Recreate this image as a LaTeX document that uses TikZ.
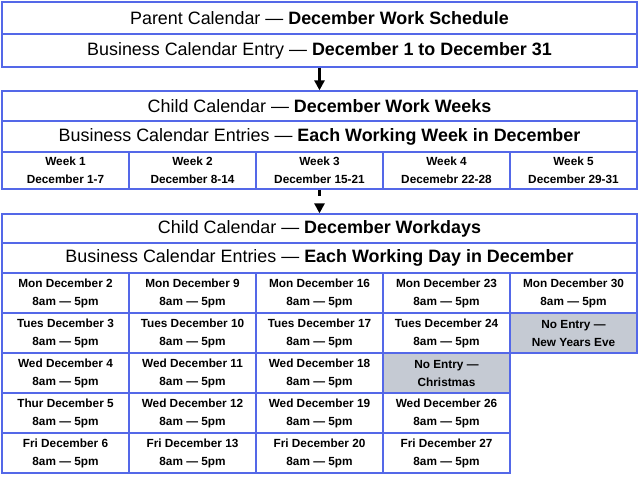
\documentclass[tikz,border=0pt]{standalone}
\usepackage{fontspec}
\setmainfont{Liberation Sans}
\usetikzlibrary{arrows.meta}
\definecolor{bord}{HTML}{5468E8}
\definecolor{grayfill}{HTML}{C5CAD3}
\tikzset{
  box/.style={draw=bord, line width=1.3pt, fill=white, inner sep=0pt, anchor=center, align=center},
  head/.style={box, minimum width=635pt, font=\fontsize{17.9}{20}\selectfont},
  cell/.style={box, minimum width=127pt, font=\fontsize{11.8}{18}\selectfont\bfseries},
  wcell/.style={cell, minimum height=37pt},
  dcell/.style={cell, minimum height=40pt},
  nocell/.style={dcell, fill=grayfill},
  flow/.style={line width=2.6pt, -{Triangle[width=10pt,length=10pt]}}
}
\begin{document}
\begin{tikzpicture}[x=1pt,y=-1pt]
\useasboundingbox (0,0) rectangle (640,478);
% Parent
\node[head, minimum height=32pt] (p1) at (319.5,18) {Parent Calendar — \textbf{December Work Schedule}};
\node[head, minimum height=33pt] (p2) at (319.5,50.5) {Business Calendar Entry — \textbf{December 1 to December 31}};
% Weeks
\node[head, minimum height=30pt] (c1) at (319.5,106) {Child Calendar — \textbf{December Work Weeks}};
\node[head, minimum height=31pt] (c2) at (319.5,136.5) {Business Calendar Entries — \textbf{Each Working Week in December}};
\node[wcell] (w1) at (65.5,170.5) {Week 1\\December 1-7};
\node[wcell] (w2) at (192.5,170.5) {Week 2\\December 8-14};
\node[wcell] (w3) at (319.5,170.5) {Week 3\\December 15-21};
\node[wcell] (w4) at (446.5,170.5) {Week 4\\Decemebr 22-28};
\node[wcell] (w5) at (573.5,170.5) {Week 5\\December 29-31};
% Days
\node[head, minimum height=29pt] (d1) at (319.5,228.5) {Child Calendar — \textbf{December Workdays}};
\node[head, minimum height=30pt] (d2) at (319.5,258) {Business Calendar Entries — \textbf{Each Working Day in December}};
% column 1
\node[dcell] (m1) at (65.5,293) {Mon December 2\\8am — 5pm};
\node[dcell] (t1) at (65.5,333) {Tues December 3\\8am — 5pm};
\node[dcell] (e1) at (65.5,373) {Wed December 4\\8am — 5pm};
\node[dcell] (h1) at (65.5,413) {Thur December 5\\8am — 5pm};
\node[dcell] (f1) at (65.5,453) {Fri December 6\\8am — 5pm};
% column 2
\node[dcell] (m2) at (192.5,293) {Mon December 9\\8am — 5pm};
\node[dcell] (t2) at (192.5,333) {Tues December 10\\8am — 5pm};
\node[dcell] (e2) at (192.5,373) {Wed December 11\\8am — 5pm};
\node[dcell] (h2) at (192.5,413) {Wed December 12\\8am — 5pm};
\node[dcell] (f2) at (192.5,453) {Fri December 13\\8am — 5pm};
% column 3
\node[dcell] (m3) at (319.5,293) {Mon December 16\\8am — 5pm};
\node[dcell] (t3) at (319.5,333) {Tues December 17\\8am — 5pm};
\node[dcell] (e3) at (319.5,373) {Wed December 18\\8am — 5pm};
\node[dcell] (h3) at (319.5,413) {Wed December 19\\8am — 5pm};
\node[dcell] (f3) at (319.5,453) {Fri December 20\\8am — 5pm};
% column 4
\node[dcell] (m4) at (446.5,293) {Mon December 23\\8am — 5pm};
\node[dcell] (t4) at (446.5,333) {Tues December 24\\8am — 5pm};
\node[nocell] (e4) at (446.5,373) {No Entry —\\Christmas};
\node[dcell] (h4) at (446.5,413) {Wed December 26\\8am — 5pm};
\node[dcell] (f4) at (446.5,453) {Fri December 27\\8am — 5pm};
% column 5
\node[dcell] (m5) at (573.5,293) {Mon December 30\\8am — 5pm};
\node[nocell] (t5) at (573.5,333) {No Entry —\\New Years Eve};
% arrows
\draw[flow] (p2.south) -- (c1.north);
\draw[flow, dash pattern=on 6pt off 30pt] (w3.south) -- (d1.north);
\end{tikzpicture}
\end{document}
